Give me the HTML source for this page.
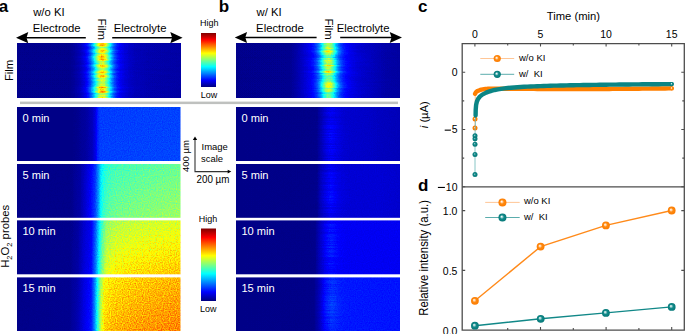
<!DOCTYPE html>
<html><head><meta charset="utf-8"><style>
html,body{margin:0;padding:0;background:#fff;}
body{width:685px;height:334px;overflow:hidden;font-family:"Liberation Sans",sans-serif;}
svg{display:block;}
</style></head><body>
<svg width="685" height="334" viewBox="0 0 685 334">
<defs><linearGradient id="g1" x1="0" y1="0" x2="1" y2="0"><stop offset="0.0000" stop-color="#030303"/><stop offset="0.3242" stop-color="#030303"/><stop offset="0.3853" stop-color="#080808"/><stop offset="0.4220" stop-color="#0f0f0f"/><stop offset="0.4587" stop-color="#1a1a1a"/><stop offset="0.5810" stop-color="#1a1a1a"/><stop offset="0.6177" stop-color="#141414"/><stop offset="0.6911" stop-color="#0f0f0f"/><stop offset="0.8135" stop-color="#0b0b0b"/><stop offset="1.0000" stop-color="#090909"/></linearGradient><linearGradient id="bd2" x1="0" y1="0" x2="1" y2="0"><stop offset="0.3162" stop-color="#fff" stop-opacity="0.005"/><stop offset="0.3505" stop-color="#fff" stop-opacity="0.017"/><stop offset="0.3847" stop-color="#fff" stop-opacity="0.042"/><stop offset="0.4121" stop-color="#fff" stop-opacity="0.081"/><stop offset="0.4327" stop-color="#fff" stop-opacity="0.136"/><stop offset="0.4498" stop-color="#fff" stop-opacity="0.225"/><stop offset="0.4635" stop-color="#fff" stop-opacity="0.347"/><stop offset="0.4755" stop-color="#fff" stop-opacity="0.496"/><stop offset="0.4875" stop-color="#fff" stop-opacity="0.672"/><stop offset="0.4977" stop-color="#fff" stop-opacity="0.820"/><stop offset="0.5080" stop-color="#fff" stop-opacity="0.936"/><stop offset="0.5166" stop-color="#fff" stop-opacity="0.991"/><stop offset="0.5217" stop-color="#fff" stop-opacity="1.000"/><stop offset="0.5269" stop-color="#fff" stop-opacity="0.991"/><stop offset="0.5354" stop-color="#fff" stop-opacity="0.936"/><stop offset="0.5457" stop-color="#fff" stop-opacity="0.820"/><stop offset="0.5560" stop-color="#fff" stop-opacity="0.672"/><stop offset="0.5680" stop-color="#fff" stop-opacity="0.496"/><stop offset="0.5799" stop-color="#fff" stop-opacity="0.347"/><stop offset="0.5936" stop-color="#fff" stop-opacity="0.225"/><stop offset="0.6108" stop-color="#fff" stop-opacity="0.136"/><stop offset="0.6313" stop-color="#fff" stop-opacity="0.081"/><stop offset="0.6587" stop-color="#fff" stop-opacity="0.042"/><stop offset="0.6930" stop-color="#fff" stop-opacity="0.017"/><stop offset="0.7272" stop-color="#fff" stop-opacity="0.005"/></linearGradient><linearGradient id="g3" x1="0" y1="0" x2="1" y2="0"><stop offset="0.0000" stop-color="#030303"/><stop offset="0.3293" stop-color="#040404"/><stop offset="0.4268" stop-color="#121212"/><stop offset="0.5122" stop-color="#1a1a1a"/><stop offset="0.6341" stop-color="#1a1a1a"/><stop offset="0.7866" stop-color="#121212"/><stop offset="0.9085" stop-color="#0a0a0a"/><stop offset="1.0000" stop-color="#080808"/></linearGradient><linearGradient id="bd4" x1="0" y1="0" x2="1" y2="0"><stop offset="0.3598" stop-color="#fff" stop-opacity="0.005"/><stop offset="0.3939" stop-color="#fff" stop-opacity="0.017"/><stop offset="0.4280" stop-color="#fff" stop-opacity="0.042"/><stop offset="0.4554" stop-color="#fff" stop-opacity="0.081"/><stop offset="0.4759" stop-color="#fff" stop-opacity="0.136"/><stop offset="0.4929" stop-color="#fff" stop-opacity="0.225"/><stop offset="0.5066" stop-color="#fff" stop-opacity="0.347"/><stop offset="0.5185" stop-color="#fff" stop-opacity="0.496"/><stop offset="0.5305" stop-color="#fff" stop-opacity="0.672"/><stop offset="0.5407" stop-color="#fff" stop-opacity="0.820"/><stop offset="0.5510" stop-color="#fff" stop-opacity="0.936"/><stop offset="0.5595" stop-color="#fff" stop-opacity="0.991"/><stop offset="0.5646" stop-color="#fff" stop-opacity="1.000"/><stop offset="0.5698" stop-color="#fff" stop-opacity="0.991"/><stop offset="0.5783" stop-color="#fff" stop-opacity="0.936"/><stop offset="0.5885" stop-color="#fff" stop-opacity="0.820"/><stop offset="0.5988" stop-color="#fff" stop-opacity="0.672"/><stop offset="0.6107" stop-color="#fff" stop-opacity="0.496"/><stop offset="0.6227" stop-color="#fff" stop-opacity="0.347"/><stop offset="0.6363" stop-color="#fff" stop-opacity="0.225"/><stop offset="0.6534" stop-color="#fff" stop-opacity="0.136"/><stop offset="0.6739" stop-color="#fff" stop-opacity="0.081"/><stop offset="0.7012" stop-color="#fff" stop-opacity="0.042"/><stop offset="0.7354" stop-color="#fff" stop-opacity="0.017"/><stop offset="0.7695" stop-color="#fff" stop-opacity="0.005"/></linearGradient><linearGradient id="vsh0" x1="0" y1="0" x2="0" y2="1"><stop offset="0" stop-color="#000" stop-opacity="0.030"/><stop offset="1" stop-color="#000" stop-opacity="0"/></linearGradient><linearGradient id="vsh1" x1="0" y1="0" x2="0" y2="1"><stop offset="0" stop-color="#000" stop-opacity="0.100"/><stop offset="1" stop-color="#000" stop-opacity="0"/></linearGradient><linearGradient id="vsh2" x1="0" y1="0" x2="0" y2="1"><stop offset="0" stop-color="#000" stop-opacity="0.140"/><stop offset="1" stop-color="#000" stop-opacity="0"/></linearGradient><linearGradient id="vsh3" x1="0" y1="0" x2="0" y2="1"><stop offset="0" stop-color="#000" stop-opacity="0.070"/><stop offset="1" stop-color="#000" stop-opacity="0"/></linearGradient><linearGradient id="bd5" x1="0" y1="0" x2="1" y2="0"><stop offset="0.3902" stop-color="#fff" stop-opacity="0.003"/><stop offset="0.4207" stop-color="#fff" stop-opacity="0.013"/><stop offset="0.4512" stop-color="#fff" stop-opacity="0.041"/><stop offset="0.4756" stop-color="#fff" stop-opacity="0.088"/><stop offset="0.4939" stop-color="#fff" stop-opacity="0.153"/><stop offset="0.5091" stop-color="#fff" stop-opacity="0.250"/><stop offset="0.5213" stop-color="#fff" stop-opacity="0.374"/><stop offset="0.5320" stop-color="#fff" stop-opacity="0.520"/><stop offset="0.5427" stop-color="#fff" stop-opacity="0.689"/><stop offset="0.5518" stop-color="#fff" stop-opacity="0.830"/><stop offset="0.5610" stop-color="#fff" stop-opacity="0.940"/><stop offset="0.5686" stop-color="#fff" stop-opacity="0.991"/><stop offset="0.5732" stop-color="#fff" stop-opacity="1.000"/><stop offset="0.5777" stop-color="#fff" stop-opacity="0.991"/><stop offset="0.5854" stop-color="#fff" stop-opacity="0.940"/><stop offset="0.5945" stop-color="#fff" stop-opacity="0.830"/><stop offset="0.6037" stop-color="#fff" stop-opacity="0.689"/><stop offset="0.6143" stop-color="#fff" stop-opacity="0.520"/><stop offset="0.6250" stop-color="#fff" stop-opacity="0.374"/><stop offset="0.6372" stop-color="#fff" stop-opacity="0.250"/><stop offset="0.6524" stop-color="#fff" stop-opacity="0.153"/><stop offset="0.6707" stop-color="#fff" stop-opacity="0.088"/><stop offset="0.6951" stop-color="#fff" stop-opacity="0.041"/><stop offset="0.7256" stop-color="#fff" stop-opacity="0.013"/><stop offset="0.7561" stop-color="#fff" stop-opacity="0.003"/></linearGradient><linearGradient id="g6" x1="0" y1="0" x2="1" y2="0"><stop offset="0.0000" stop-color="#020202"/><stop offset="0.3364" stop-color="#020202"/><stop offset="0.4159" stop-color="#080808"/><stop offset="0.4587" stop-color="#0f0f0f"/><stop offset="0.4801" stop-color="#1a1a1a"/><stop offset="0.4924" stop-color="#282828"/><stop offset="0.5076" stop-color="#303030"/><stop offset="1.0000" stop-color="#323232"/></linearGradient><linearGradient id="g7" x1="0" y1="0" x2="1" y2="0"><stop offset="0.0000" stop-color="#020202"/><stop offset="0.4939" stop-color="#030303"/><stop offset="0.5183" stop-color="#0b0b0b"/><stop offset="0.5488" stop-color="#131313"/><stop offset="0.5793" stop-color="#181818"/><stop offset="0.6098" stop-color="#171717"/><stop offset="0.6646" stop-color="#141414"/><stop offset="0.8171" stop-color="#121212"/><stop offset="1.0000" stop-color="#0f0f0f"/></linearGradient><linearGradient id="g8" x1="0" y1="0" x2="1" y2="0"><stop offset="0.0000" stop-color="#030303"/><stop offset="0.3242" stop-color="#030303"/><stop offset="0.3853" stop-color="#0a0a0a"/><stop offset="0.4220" stop-color="#171717"/><stop offset="0.4495" stop-color="#212121"/><stop offset="0.4771" stop-color="#303030"/><stop offset="0.4905" stop-color="#404040"/><stop offset="0.5015" stop-color="#4f4f4f"/><stop offset="0.5125" stop-color="#626262"/><stop offset="0.5321" stop-color="#707070"/><stop offset="0.5590" stop-color="#787878"/><stop offset="0.5994" stop-color="#7d7d7d"/><stop offset="0.7523" stop-color="#828282"/><stop offset="1.0000" stop-color="#888888"/></linearGradient><linearGradient id="g9" x1="0" y1="0" x2="1" y2="0"><stop offset="0.0000" stop-color="#020202"/><stop offset="0.4939" stop-color="#030303"/><stop offset="0.5183" stop-color="#0e0e0e"/><stop offset="0.5488" stop-color="#141414"/><stop offset="0.5793" stop-color="#1a1a1a"/><stop offset="0.6098" stop-color="#181818"/><stop offset="0.6646" stop-color="#161616"/><stop offset="0.8780" stop-color="#161616"/><stop offset="1.0000" stop-color="#141414"/></linearGradient><linearGradient id="g10" x1="0" y1="0" x2="1" y2="0"><stop offset="0.0000" stop-color="#030303"/><stop offset="0.3242" stop-color="#040404"/><stop offset="0.3731" stop-color="#0a0a0a"/><stop offset="0.4098" stop-color="#171717"/><stop offset="0.4538" stop-color="#212121"/><stop offset="0.4813" stop-color="#404040"/><stop offset="0.4979" stop-color="#5e5e5e"/><stop offset="0.5199" stop-color="#808080"/><stop offset="0.5468" stop-color="#999999"/><stop offset="0.6018" stop-color="#a3a3a3"/><stop offset="0.7217" stop-color="#a8a8a8"/><stop offset="1.0000" stop-color="#afafaf"/></linearGradient><linearGradient id="g11" x1="0" y1="0" x2="1" y2="0"><stop offset="0.0000" stop-color="#020202"/><stop offset="0.4817" stop-color="#030303"/><stop offset="0.5122" stop-color="#0f0f0f"/><stop offset="0.5488" stop-color="#1a1a1a"/><stop offset="0.5793" stop-color="#1f1f1f"/><stop offset="0.6098" stop-color="#1e1e1e"/><stop offset="0.6646" stop-color="#1d1d1d"/><stop offset="1.0000" stop-color="#1d1d1d"/></linearGradient><linearGradient id="g12" x1="0" y1="0" x2="1" y2="0"><stop offset="0.0000" stop-color="#030303"/><stop offset="0.3242" stop-color="#050505"/><stop offset="0.3731" stop-color="#0d0d0d"/><stop offset="0.4098" stop-color="#1a1a1a"/><stop offset="0.4538" stop-color="#262626"/><stop offset="0.4758" stop-color="#454545"/><stop offset="0.4924" stop-color="#696969"/><stop offset="0.5138" stop-color="#949494"/><stop offset="0.5358" stop-color="#ababab"/><stop offset="0.5853" stop-color="#b2b2b2"/><stop offset="0.7217" stop-color="#b8b8b8"/><stop offset="1.0000" stop-color="#bfbfbf"/></linearGradient><linearGradient id="g13" x1="0" y1="0" x2="1" y2="0"><stop offset="0.0000" stop-color="#020202"/><stop offset="0.4756" stop-color="#030303"/><stop offset="0.5061" stop-color="#0d0d0d"/><stop offset="0.5427" stop-color="#1f1f1f"/><stop offset="0.5854" stop-color="#282828"/><stop offset="0.6341" stop-color="#262626"/><stop offset="1.0000" stop-color="#252525"/></linearGradient><linearGradient id="cbg" x1="0" y1="0" x2="0" y2="1"><stop offset="0" stop-color="#fff"/><stop offset="1" stop-color="#000"/></linearGradient><filter id="jet" x="0" y="0" width="685" height="334" filterUnits="userSpaceOnUse" color-interpolation-filters="sRGB"><feComponentTransfer><feFuncR type="table" tableValues="0 0 0 0 0.5 1 1 1 0.5"/><feFuncG type="table" tableValues="0 0 0.5 1 1 1 0.5 0 0"/><feFuncB type="table" tableValues="0.5 1 1 1 0.5 0 0 0 0"/></feComponentTransfer></filter><filter id="jetf" x="0" y="0" width="685" height="334" filterUnits="userSpaceOnUse" color-interpolation-filters="sRGB"><feTurbulence type="fractalNoise" baseFrequency="0.04 0.55" numOctaves="2" seed="5" result="n1"/><feTurbulence type="fractalNoise" baseFrequency="0.7" numOctaves="1" seed="8" result="n2"/><feComposite in="n1" in2="n2" operator="arithmetic" k1="0" k2="0.5" k3="0.5" k4="0" result="n"/><feColorMatrix in="n" type="matrix" values="1 0 0 0 0  1 0 0 0 0  1 0 0 0 0  0 0 0 0 1" result="ng"/><feComponentTransfer in="SourceGraphic" result="sc"><feFuncR type="linear" slope="1.25"/><feFuncG type="linear" slope="1.25"/><feFuncB type="linear" slope="1.25"/></feComponentTransfer><feComposite in="sc" in2="ng" operator="arithmetic" k1="0.4" k2="0.6" k3="0" k4="0" result="s2"/><feComponentTransfer in="s2"><feFuncR type="table" tableValues="0 0 0 0 0.5 1 1 1 0.5"/><feFuncG type="table" tableValues="0 0 0.5 1 1 1 0.5 0 0"/><feFuncB type="table" tableValues="0.5 1 1 1 0.5 0 0 0 0"/></feComponentTransfer></filter><filter id="jetn" x="0" y="0" width="685" height="334" filterUnits="userSpaceOnUse" color-interpolation-filters="sRGB"><feTurbulence type="fractalNoise" baseFrequency="0.85" numOctaves="1" seed="3" result="n"/><feColorMatrix in="n" type="matrix" values="1 0 0 0 0  1 0 0 0 0  1 0 0 0 0  0 0 0 0 1" result="ng"/><feComponentTransfer in="SourceGraphic" result="sc"><feFuncR type="linear" slope="1.176"/><feFuncG type="linear" slope="1.176"/><feFuncB type="linear" slope="1.176"/></feComponentTransfer><feComposite in="sc" in2="ng" operator="arithmetic" k1="0.3" k2="0.7" k3="0" k4="0" result="s2"/><feComponentTransfer in="s2"><feFuncR type="table" tableValues="0 0 0 0 0.5 1 1 1 0.5"/><feFuncG type="table" tableValues="0 0 0.5 1 1 1 0.5 0 0"/><feFuncB type="table" tableValues="0.5 1 1 1 0.5 0 0 0 0"/></feComponentTransfer></filter>
<radialGradient id="mo" cx="0.5" cy="0.5" r="0.5" fx="0.38" fy="0.38">
 <stop offset="0" stop-color="#fffaf5"/><stop offset="0.22" stop-color="#ffd6ad"/><stop offset="0.5" stop-color="#ff8a10"/><stop offset="1" stop-color="#fb7b00"/></radialGradient>
<radialGradient id="mt" cx="0.5" cy="0.5" r="0.5" fx="0.38" fy="0.38">
 <stop offset="0" stop-color="#f5fbfb"/><stop offset="0.22" stop-color="#a8d6d6"/><stop offset="0.5" stop-color="#138a8a"/><stop offset="1" stop-color="#047878"/></radialGradient>
<radialGradient id="mos" cx="0.5" cy="0.5" r="0.5" fx="0.4" fy="0.4">
 <stop offset="0" stop-color="#ffd9b3"/><stop offset="0.25" stop-color="#ffa040"/><stop offset="0.5" stop-color="#ff8200"/><stop offset="1" stop-color="#f87800"/></radialGradient>
<radialGradient id="mts" cx="0.5" cy="0.5" r="0.5" fx="0.4" fy="0.4">
 <stop offset="0" stop-color="#b0dcdc"/><stop offset="0.25" stop-color="#40a0a0"/><stop offset="0.5" stop-color="#0e8686"/><stop offset="1" stop-color="#057777"/></radialGradient>
<marker id="ah" viewBox="0 0 12 10" refX="11" refY="5" markerWidth="12" markerHeight="10" markerUnits="userSpaceOnUse" orient="auto"><path d="M0,0 L12,5 L0,10 L1.5,5 Z" fill="#000"/></marker>
</defs>
<g filter="url(#jetf)" shape-rendering="crispEdges"><g><rect x="17.00" y="43.00" width="163.50" height="55.00" fill="url(#g1)"/><rect x="17.00" y="43" width="163.50" height="1" fill="url(#bd2)" fill-opacity="0.642"/><rect x="17.00" y="44" width="163.50" height="1" fill="url(#bd2)" fill-opacity="0.703"/><rect x="17.00" y="45" width="163.50" height="1" fill="url(#bd2)" fill-opacity="0.686"/><rect x="17.00" y="46" width="163.50" height="1" fill="url(#bd2)" fill-opacity="0.565"/><rect x="17.00" y="47" width="163.50" height="1" fill="url(#bd2)" fill-opacity="0.518"/><rect x="17.00" y="48" width="163.50" height="1" fill="url(#bd2)" fill-opacity="0.526"/><rect x="17.00" y="49" width="163.50" height="1" fill="url(#bd2)" fill-opacity="0.551"/><rect x="17.00" y="50" width="163.50" height="1" fill="url(#bd2)" fill-opacity="0.665"/><rect x="17.00" y="51" width="163.50" height="1" fill="url(#bd2)" fill-opacity="0.691"/><rect x="17.00" y="52" width="163.50" height="1" fill="url(#bd2)" fill-opacity="0.614"/><rect x="17.00" y="53" width="163.50" height="1" fill="url(#bd2)" fill-opacity="0.507"/><rect x="17.00" y="54" width="163.50" height="1" fill="url(#bd2)" fill-opacity="0.589"/><rect x="17.00" y="55" width="163.50" height="1" fill="url(#bd2)" fill-opacity="0.645"/><rect x="17.00" y="56" width="163.50" height="1" fill="url(#bd2)" fill-opacity="0.679"/><rect x="17.00" y="57" width="163.50" height="1" fill="url(#bd2)" fill-opacity="0.674"/><rect x="17.00" y="58" width="163.50" height="1" fill="url(#bd2)" fill-opacity="0.663"/><rect x="17.00" y="59" width="163.50" height="1" fill="url(#bd2)" fill-opacity="0.691"/><rect x="17.00" y="60" width="163.50" height="1" fill="url(#bd2)" fill-opacity="0.605"/><rect x="17.00" y="61" width="163.50" height="1" fill="url(#bd2)" fill-opacity="0.530"/><rect x="17.00" y="62" width="163.50" height="1" fill="url(#bd2)" fill-opacity="0.525"/><rect x="17.00" y="63" width="163.50" height="1" fill="url(#bd2)" fill-opacity="0.526"/><rect x="17.00" y="64" width="163.50" height="1" fill="url(#bd2)" fill-opacity="0.572"/><rect x="17.00" y="65" width="163.50" height="1" fill="url(#bd2)" fill-opacity="0.686"/><rect x="17.00" y="66" width="163.50" height="1" fill="url(#bd2)" fill-opacity="0.643"/><rect x="17.00" y="67" width="163.50" height="1" fill="url(#bd2)" fill-opacity="0.562"/><rect x="17.00" y="68" width="163.50" height="1" fill="url(#bd2)" fill-opacity="0.501"/><rect x="17.00" y="69" width="163.50" height="1" fill="url(#bd2)" fill-opacity="0.481"/><rect x="17.00" y="70" width="163.50" height="1" fill="url(#bd2)" fill-opacity="0.568"/><rect x="17.00" y="71" width="163.50" height="1" fill="url(#bd2)" fill-opacity="0.646"/><rect x="17.00" y="72" width="163.50" height="1" fill="url(#bd2)" fill-opacity="0.692"/><rect x="17.00" y="73" width="163.50" height="1" fill="url(#bd2)" fill-opacity="0.581"/><rect x="17.00" y="74" width="163.50" height="1" fill="url(#bd2)" fill-opacity="0.577"/><rect x="17.00" y="75" width="163.50" height="1" fill="url(#bd2)" fill-opacity="0.654"/><rect x="17.00" y="76" width="163.50" height="1" fill="url(#bd2)" fill-opacity="0.690"/><rect x="17.00" y="77" width="163.50" height="1" fill="url(#bd2)" fill-opacity="0.607"/><rect x="17.00" y="78" width="163.50" height="1" fill="url(#bd2)" fill-opacity="0.535"/><rect x="17.00" y="79" width="163.50" height="1" fill="url(#bd2)" fill-opacity="0.555"/><rect x="17.00" y="80" width="163.50" height="1" fill="url(#bd2)" fill-opacity="0.547"/><rect x="17.00" y="81" width="163.50" height="1" fill="url(#bd2)" fill-opacity="0.543"/><rect x="17.00" y="82" width="163.50" height="1" fill="url(#bd2)" fill-opacity="0.524"/><rect x="17.00" y="83" width="163.50" height="1" fill="url(#bd2)" fill-opacity="0.500"/><rect x="17.00" y="84" width="163.50" height="1" fill="url(#bd2)" fill-opacity="0.528"/><rect x="17.00" y="85" width="163.50" height="1" fill="url(#bd2)" fill-opacity="0.571"/><rect x="17.00" y="86" width="163.50" height="1" fill="url(#bd2)" fill-opacity="0.617"/><rect x="17.00" y="87" width="163.50" height="1" fill="url(#bd2)" fill-opacity="0.721"/><rect x="17.00" y="88" width="163.50" height="1" fill="url(#bd2)" fill-opacity="0.646"/><rect x="17.00" y="89" width="163.50" height="1" fill="url(#bd2)" fill-opacity="0.637"/><rect x="17.00" y="90" width="163.50" height="1" fill="url(#bd2)" fill-opacity="0.638"/><rect x="17.00" y="91" width="163.50" height="1" fill="url(#bd2)" fill-opacity="0.735"/><rect x="17.00" y="92" width="163.50" height="1" fill="url(#bd2)" fill-opacity="0.680"/><rect x="17.00" y="93" width="163.50" height="1" fill="url(#bd2)" fill-opacity="0.528"/><rect x="17.00" y="94" width="163.50" height="1" fill="url(#bd2)" fill-opacity="0.494"/><rect x="17.00" y="95" width="163.50" height="1" fill="url(#bd2)" fill-opacity="0.549"/><rect x="17.00" y="96" width="163.50" height="1" fill="url(#bd2)" fill-opacity="0.546"/><rect x="17.00" y="97" width="163.50" height="1" fill="url(#bd2)" fill-opacity="0.610"/></g><g><rect x="236.00" y="43.00" width="164.00" height="55.00" fill="url(#g3)"/><rect x="236.00" y="43" width="164.00" height="1" fill="url(#bd4)" fill-opacity="0.478"/><rect x="236.00" y="44" width="164.00" height="1" fill="url(#bd4)" fill-opacity="0.493"/><rect x="236.00" y="45" width="164.00" height="1" fill="url(#bd4)" fill-opacity="0.498"/><rect x="236.00" y="46" width="164.00" height="1" fill="url(#bd4)" fill-opacity="0.484"/><rect x="236.00" y="47" width="164.00" height="1" fill="url(#bd4)" fill-opacity="0.529"/><rect x="236.00" y="48" width="164.00" height="1" fill="url(#bd4)" fill-opacity="0.558"/><rect x="236.00" y="49" width="164.00" height="1" fill="url(#bd4)" fill-opacity="0.499"/><rect x="236.00" y="50" width="164.00" height="1" fill="url(#bd4)" fill-opacity="0.542"/><rect x="236.00" y="51" width="164.00" height="1" fill="url(#bd4)" fill-opacity="0.584"/><rect x="236.00" y="52" width="164.00" height="1" fill="url(#bd4)" fill-opacity="0.576"/><rect x="236.00" y="53" width="164.00" height="1" fill="url(#bd4)" fill-opacity="0.516"/><rect x="236.00" y="54" width="164.00" height="1" fill="url(#bd4)" fill-opacity="0.489"/><rect x="236.00" y="55" width="164.00" height="1" fill="url(#bd4)" fill-opacity="0.420"/><rect x="236.00" y="56" width="164.00" height="1" fill="url(#bd4)" fill-opacity="0.411"/><rect x="236.00" y="57" width="164.00" height="1" fill="url(#bd4)" fill-opacity="0.389"/><rect x="236.00" y="58" width="164.00" height="1" fill="url(#bd4)" fill-opacity="0.485"/><rect x="236.00" y="59" width="164.00" height="1" fill="url(#bd4)" fill-opacity="0.469"/><rect x="236.00" y="60" width="164.00" height="1" fill="url(#bd4)" fill-opacity="0.593"/><rect x="236.00" y="61" width="164.00" height="1" fill="url(#bd4)" fill-opacity="0.534"/><rect x="236.00" y="62" width="164.00" height="1" fill="url(#bd4)" fill-opacity="0.528"/><rect x="236.00" y="63" width="164.00" height="1" fill="url(#bd4)" fill-opacity="0.478"/><rect x="236.00" y="64" width="164.00" height="1" fill="url(#bd4)" fill-opacity="0.516"/><rect x="236.00" y="65" width="164.00" height="1" fill="url(#bd4)" fill-opacity="0.603"/><rect x="236.00" y="66" width="164.00" height="1" fill="url(#bd4)" fill-opacity="0.520"/><rect x="236.00" y="67" width="164.00" height="1" fill="url(#bd4)" fill-opacity="0.468"/><rect x="236.00" y="68" width="164.00" height="1" fill="url(#bd4)" fill-opacity="0.516"/><rect x="236.00" y="69" width="164.00" height="1" fill="url(#bd4)" fill-opacity="0.486"/><rect x="236.00" y="70" width="164.00" height="1" fill="url(#bd4)" fill-opacity="0.485"/><rect x="236.00" y="71" width="164.00" height="1" fill="url(#bd4)" fill-opacity="0.611"/><rect x="236.00" y="72" width="164.00" height="1" fill="url(#bd4)" fill-opacity="0.599"/><rect x="236.00" y="73" width="164.00" height="1" fill="url(#bd4)" fill-opacity="0.477"/><rect x="236.00" y="74" width="164.00" height="1" fill="url(#bd4)" fill-opacity="0.476"/><rect x="236.00" y="75" width="164.00" height="1" fill="url(#bd4)" fill-opacity="0.443"/><rect x="236.00" y="76" width="164.00" height="1" fill="url(#bd4)" fill-opacity="0.433"/><rect x="236.00" y="77" width="164.00" height="1" fill="url(#bd4)" fill-opacity="0.426"/><rect x="236.00" y="78" width="164.00" height="1" fill="url(#bd4)" fill-opacity="0.389"/><rect x="236.00" y="79" width="164.00" height="1" fill="url(#bd4)" fill-opacity="0.464"/><rect x="236.00" y="80" width="164.00" height="1" fill="url(#bd4)" fill-opacity="0.436"/><rect x="236.00" y="81" width="164.00" height="1" fill="url(#bd4)" fill-opacity="0.457"/><rect x="236.00" y="82" width="164.00" height="1" fill="url(#bd4)" fill-opacity="0.538"/><rect x="236.00" y="83" width="164.00" height="1" fill="url(#bd4)" fill-opacity="0.561"/><rect x="236.00" y="84" width="164.00" height="1" fill="url(#bd4)" fill-opacity="0.569"/><rect x="236.00" y="85" width="164.00" height="1" fill="url(#bd4)" fill-opacity="0.563"/><rect x="236.00" y="86" width="164.00" height="1" fill="url(#bd4)" fill-opacity="0.578"/><rect x="236.00" y="87" width="164.00" height="1" fill="url(#bd4)" fill-opacity="0.549"/><rect x="236.00" y="88" width="164.00" height="1" fill="url(#bd4)" fill-opacity="0.466"/><rect x="236.00" y="89" width="164.00" height="1" fill="url(#bd4)" fill-opacity="0.500"/><rect x="236.00" y="90" width="164.00" height="1" fill="url(#bd4)" fill-opacity="0.510"/><rect x="236.00" y="91" width="164.00" height="1" fill="url(#bd4)" fill-opacity="0.486"/><rect x="236.00" y="92" width="164.00" height="1" fill="url(#bd4)" fill-opacity="0.428"/><rect x="236.00" y="93" width="164.00" height="1" fill="url(#bd4)" fill-opacity="0.396"/><rect x="236.00" y="94" width="164.00" height="1" fill="url(#bd4)" fill-opacity="0.405"/><rect x="236.00" y="95" width="164.00" height="1" fill="url(#bd4)" fill-opacity="0.423"/><rect x="236.00" y="96" width="164.00" height="1" fill="url(#bd4)" fill-opacity="0.429"/><rect x="236.00" y="97" width="164.00" height="1" fill="url(#bd4)" fill-opacity="0.417"/></g></g><g filter="url(#jetn)"><rect x="17.00" y="107.00" width="163.50" height="54.00" fill="url(#g6)"/><rect x="236.00" y="107.00" width="164.00" height="54.00" fill="url(#g7)"/><rect x="236" y="107" width="164" height="1" fill="url(#bd5)" fill-opacity="0.006"/><rect x="236" y="108" width="164" height="1" fill="url(#bd5)" fill-opacity="0.026"/><rect x="236" y="109" width="164" height="1" fill="url(#bd5)" fill-opacity="0.024"/><rect x="236" y="110" width="164" height="1" fill="url(#bd5)" fill-opacity="0.018"/><rect x="236" y="111" width="164" height="1" fill="url(#bd5)" fill-opacity="0.009"/><rect x="236" y="112" width="164" height="1" fill="url(#bd5)" fill-opacity="0.030"/><rect x="236" y="113" width="164" height="1" fill="url(#bd5)" fill-opacity="0.031"/><rect x="236" y="114" width="164" height="1" fill="url(#bd5)" fill-opacity="0.021"/><rect x="236" y="115" width="164" height="1" fill="url(#bd5)" fill-opacity="0.021"/><rect x="236" y="116" width="164" height="1" fill="url(#bd5)" fill-opacity="0.012"/><rect x="236" y="117" width="164" height="1" fill="url(#bd5)" fill-opacity="0.005"/><rect x="236" y="118" width="164" height="1" fill="url(#bd5)" fill-opacity="0.019"/><rect x="236" y="119" width="164" height="1" fill="url(#bd5)" fill-opacity="0.028"/><rect x="236" y="120" width="164" height="1" fill="url(#bd5)" fill-opacity="0.010"/><rect x="236" y="121" width="164" height="1" fill="url(#bd5)" fill-opacity="0.037"/><rect x="236" y="122" width="164" height="1" fill="url(#bd5)" fill-opacity="0.018"/><rect x="236" y="123" width="164" height="1" fill="url(#bd5)" fill-opacity="0.019"/><rect x="236" y="124" width="164" height="1" fill="url(#bd5)" fill-opacity="0.014"/><rect x="236" y="125" width="164" height="1" fill="url(#bd5)" fill-opacity="0.049"/><rect x="236" y="126" width="164" height="1" fill="url(#bd5)" fill-opacity="0.041"/><rect x="236" y="127" width="164" height="1" fill="url(#bd5)" fill-opacity="0.047"/><rect x="236" y="128" width="164" height="1" fill="url(#bd5)" fill-opacity="0.039"/><rect x="236" y="129" width="164" height="1" fill="url(#bd5)" fill-opacity="0.019"/><rect x="236" y="130" width="164" height="1" fill="url(#bd5)" fill-opacity="0.030"/><rect x="236" y="131" width="164" height="1" fill="url(#bd5)" fill-opacity="0.037"/><rect x="236" y="132" width="164" height="1" fill="url(#bd5)" fill-opacity="0.024"/><rect x="236" y="133" width="164" height="1" fill="url(#bd5)" fill-opacity="0.054"/><rect x="236" y="134" width="164" height="1" fill="url(#bd5)" fill-opacity="0.033"/><rect x="236" y="135" width="164" height="1" fill="url(#bd5)" fill-opacity="0.025"/><rect x="236" y="136" width="164" height="1" fill="url(#bd5)" fill-opacity="0.049"/><rect x="236" y="137" width="164" height="1" fill="url(#bd5)" fill-opacity="0.024"/><rect x="236" y="138" width="164" height="1" fill="url(#bd5)" fill-opacity="0.052"/><rect x="236" y="139" width="164" height="1" fill="url(#bd5)" fill-opacity="0.034"/><rect x="236" y="140" width="164" height="1" fill="url(#bd5)" fill-opacity="0.037"/><rect x="236" y="141" width="164" height="1" fill="url(#bd5)" fill-opacity="0.028"/><rect x="236" y="142" width="164" height="1" fill="url(#bd5)" fill-opacity="0.032"/><rect x="236" y="143" width="164" height="1" fill="url(#bd5)" fill-opacity="0.020"/><rect x="236" y="144" width="164" height="1" fill="url(#bd5)" fill-opacity="0.013"/><rect x="236" y="145" width="164" height="1" fill="url(#bd5)" fill-opacity="0.042"/><rect x="236" y="146" width="164" height="1" fill="url(#bd5)" fill-opacity="0.018"/><rect x="236" y="147" width="164" height="1" fill="url(#bd5)" fill-opacity="0.037"/><rect x="236" y="148" width="164" height="1" fill="url(#bd5)" fill-opacity="0.015"/><rect x="236" y="149" width="164" height="1" fill="url(#bd5)" fill-opacity="0.041"/><rect x="236" y="150" width="164" height="1" fill="url(#bd5)" fill-opacity="0.038"/><rect x="236" y="151" width="164" height="1" fill="url(#bd5)" fill-opacity="0.032"/><rect x="236" y="152" width="164" height="1" fill="url(#bd5)" fill-opacity="0.031"/><rect x="236" y="153" width="164" height="1" fill="url(#bd5)" fill-opacity="0.024"/><rect x="236" y="154" width="164" height="1" fill="url(#bd5)" fill-opacity="0.029"/><rect x="236" y="155" width="164" height="1" fill="url(#bd5)" fill-opacity="0.007"/><rect x="236" y="156" width="164" height="1" fill="url(#bd5)" fill-opacity="0.019"/><rect x="236" y="157" width="164" height="1" fill="url(#bd5)" fill-opacity="0.031"/><rect x="236" y="158" width="164" height="1" fill="url(#bd5)" fill-opacity="0.008"/><rect x="236" y="159" width="164" height="1" fill="url(#bd5)" fill-opacity="0.034"/><rect x="236" y="160" width="164" height="1" fill="url(#bd5)" fill-opacity="0.033"/><rect x="17.00" y="107.00" width="163.50" height="54.00" fill="url(#vsh0)"/><rect x="17.00" y="164.00" width="163.50" height="53.80" fill="url(#g8)"/><rect x="236.00" y="164.00" width="164.00" height="53.80" fill="url(#g9)"/><rect x="236" y="164" width="164" height="1" fill="url(#bd5)" fill-opacity="0.015"/><rect x="236" y="165" width="164" height="1" fill="url(#bd5)" fill-opacity="0.014"/><rect x="236" y="166" width="164" height="1" fill="url(#bd5)" fill-opacity="0.017"/><rect x="236" y="167" width="164" height="1" fill="url(#bd5)" fill-opacity="0.015"/><rect x="236" y="168" width="164" height="1" fill="url(#bd5)" fill-opacity="0.037"/><rect x="236" y="169" width="164" height="1" fill="url(#bd5)" fill-opacity="0.016"/><rect x="236" y="170" width="164" height="1" fill="url(#bd5)" fill-opacity="0.003"/><rect x="236" y="171" width="164" height="1" fill="url(#bd5)" fill-opacity="0.006"/><rect x="236" y="172" width="164" height="1" fill="url(#bd5)" fill-opacity="0.029"/><rect x="236" y="173" width="164" height="1" fill="url(#bd5)" fill-opacity="0.040"/><rect x="236" y="174" width="164" height="1" fill="url(#bd5)" fill-opacity="0.023"/><rect x="236" y="175" width="164" height="1" fill="url(#bd5)" fill-opacity="0.023"/><rect x="236" y="176" width="164" height="1" fill="url(#bd5)" fill-opacity="0.026"/><rect x="236" y="177" width="164" height="1" fill="url(#bd5)" fill-opacity="0.035"/><rect x="236" y="178" width="164" height="1" fill="url(#bd5)" fill-opacity="0.017"/><rect x="236" y="179" width="164" height="1" fill="url(#bd5)" fill-opacity="0.032"/><rect x="236" y="180" width="164" height="1" fill="url(#bd5)" fill-opacity="0.031"/><rect x="236" y="181" width="164" height="1" fill="url(#bd5)" fill-opacity="0.035"/><rect x="236" y="182" width="164" height="1" fill="url(#bd5)" fill-opacity="0.020"/><rect x="236" y="183" width="164" height="1" fill="url(#bd5)" fill-opacity="0.021"/><rect x="236" y="184" width="164" height="1" fill="url(#bd5)" fill-opacity="0.028"/><rect x="236" y="185" width="164" height="1" fill="url(#bd5)" fill-opacity="0.050"/><rect x="236" y="186" width="164" height="1" fill="url(#bd5)" fill-opacity="0.030"/><rect x="236" y="187" width="164" height="1" fill="url(#bd5)" fill-opacity="0.040"/><rect x="236" y="188" width="164" height="1" fill="url(#bd5)" fill-opacity="0.030"/><rect x="236" y="189" width="164" height="1" fill="url(#bd5)" fill-opacity="0.023"/><rect x="236" y="190" width="164" height="1" fill="url(#bd5)" fill-opacity="0.022"/><rect x="236" y="191" width="164" height="1" fill="url(#bd5)" fill-opacity="0.049"/><rect x="236" y="192" width="164" height="1" fill="url(#bd5)" fill-opacity="0.048"/><rect x="236" y="193" width="164" height="1" fill="url(#bd5)" fill-opacity="0.033"/><rect x="236" y="194" width="164" height="1" fill="url(#bd5)" fill-opacity="0.044"/><rect x="236" y="195" width="164" height="1" fill="url(#bd5)" fill-opacity="0.043"/><rect x="236" y="196" width="164" height="1" fill="url(#bd5)" fill-opacity="0.050"/><rect x="236" y="197" width="164" height="1" fill="url(#bd5)" fill-opacity="0.051"/><rect x="236" y="198" width="164" height="1" fill="url(#bd5)" fill-opacity="0.030"/><rect x="236" y="199" width="164" height="1" fill="url(#bd5)" fill-opacity="0.050"/><rect x="236" y="200" width="164" height="1" fill="url(#bd5)" fill-opacity="0.048"/><rect x="236" y="201" width="164" height="1" fill="url(#bd5)" fill-opacity="0.033"/><rect x="236" y="202" width="164" height="1" fill="url(#bd5)" fill-opacity="0.043"/><rect x="236" y="203" width="164" height="1" fill="url(#bd5)" fill-opacity="0.027"/><rect x="236" y="204" width="164" height="1" fill="url(#bd5)" fill-opacity="0.022"/><rect x="236" y="205" width="164" height="1" fill="url(#bd5)" fill-opacity="0.016"/><rect x="236" y="206" width="164" height="1" fill="url(#bd5)" fill-opacity="0.038"/><rect x="236" y="207" width="164" height="1" fill="url(#bd5)" fill-opacity="0.011"/><rect x="236" y="208" width="164" height="1" fill="url(#bd5)" fill-opacity="0.007"/><rect x="236" y="209" width="164" height="1" fill="url(#bd5)" fill-opacity="0.033"/><rect x="236" y="210" width="164" height="1" fill="url(#bd5)" fill-opacity="0.031"/><rect x="236" y="211" width="164" height="1" fill="url(#bd5)" fill-opacity="0.020"/><rect x="236" y="212" width="164" height="1" fill="url(#bd5)" fill-opacity="0.032"/><rect x="236" y="213" width="164" height="1" fill="url(#bd5)" fill-opacity="0.004"/><rect x="236" y="214" width="164" height="1" fill="url(#bd5)" fill-opacity="0.011"/><rect x="236" y="215" width="164" height="1" fill="url(#bd5)" fill-opacity="0.012"/><rect x="236" y="216" width="164" height="1" fill="url(#bd5)" fill-opacity="0.016"/><rect x="17.00" y="164.00" width="163.50" height="53.80" fill="url(#vsh1)"/><rect x="17.00" y="220.40" width="163.50" height="53.90" fill="url(#g10)"/><rect x="236.00" y="220.40" width="164.00" height="53.90" fill="url(#g11)"/><rect x="236" y="221" width="164" height="1" fill="url(#bd5)" fill-opacity="0.007"/><rect x="236" y="222" width="164" height="1" fill="url(#bd5)" fill-opacity="0.003"/><rect x="236" y="223" width="164" height="1" fill="url(#bd5)" fill-opacity="0.013"/><rect x="236" y="224" width="164" height="1" fill="url(#bd5)" fill-opacity="0.034"/><rect x="236" y="225" width="164" height="1" fill="url(#bd5)" fill-opacity="0.037"/><rect x="236" y="226" width="164" height="1" fill="url(#bd5)" fill-opacity="0.029"/><rect x="236" y="227" width="164" height="1" fill="url(#bd5)" fill-opacity="0.020"/><rect x="236" y="228" width="164" height="1" fill="url(#bd5)" fill-opacity="0.012"/><rect x="236" y="229" width="164" height="1" fill="url(#bd5)" fill-opacity="0.038"/><rect x="236" y="230" width="164" height="1" fill="url(#bd5)" fill-opacity="0.023"/><rect x="236" y="231" width="164" height="1" fill="url(#bd5)" fill-opacity="0.031"/><rect x="236" y="232" width="164" height="1" fill="url(#bd5)" fill-opacity="0.007"/><rect x="236" y="233" width="164" height="1" fill="url(#bd5)" fill-opacity="0.015"/><rect x="236" y="234" width="164" height="1" fill="url(#bd5)" fill-opacity="0.038"/><rect x="236" y="235" width="164" height="1" fill="url(#bd5)" fill-opacity="0.038"/><rect x="236" y="236" width="164" height="1" fill="url(#bd5)" fill-opacity="0.042"/><rect x="236" y="237" width="164" height="1" fill="url(#bd5)" fill-opacity="0.033"/><rect x="236" y="238" width="164" height="1" fill="url(#bd5)" fill-opacity="0.028"/><rect x="236" y="239" width="164" height="1" fill="url(#bd5)" fill-opacity="0.035"/><rect x="236" y="240" width="164" height="1" fill="url(#bd5)" fill-opacity="0.046"/><rect x="236" y="241" width="164" height="1" fill="url(#bd5)" fill-opacity="0.027"/><rect x="236" y="242" width="164" height="1" fill="url(#bd5)" fill-opacity="0.037"/><rect x="236" y="243" width="164" height="1" fill="url(#bd5)" fill-opacity="0.028"/><rect x="236" y="244" width="164" height="1" fill="url(#bd5)" fill-opacity="0.047"/><rect x="236" y="245" width="164" height="1" fill="url(#bd5)" fill-opacity="0.020"/><rect x="236" y="246" width="164" height="1" fill="url(#bd5)" fill-opacity="0.044"/><rect x="236" y="247" width="164" height="1" fill="url(#bd5)" fill-opacity="0.054"/><rect x="236" y="248" width="164" height="1" fill="url(#bd5)" fill-opacity="0.021"/><rect x="236" y="249" width="164" height="1" fill="url(#bd5)" fill-opacity="0.041"/><rect x="236" y="250" width="164" height="1" fill="url(#bd5)" fill-opacity="0.042"/><rect x="236" y="251" width="164" height="1" fill="url(#bd5)" fill-opacity="0.049"/><rect x="236" y="252" width="164" height="1" fill="url(#bd5)" fill-opacity="0.039"/><rect x="236" y="253" width="164" height="1" fill="url(#bd5)" fill-opacity="0.026"/><rect x="236" y="254" width="164" height="1" fill="url(#bd5)" fill-opacity="0.031"/><rect x="236" y="255" width="164" height="1" fill="url(#bd5)" fill-opacity="0.049"/><rect x="236" y="256" width="164" height="1" fill="url(#bd5)" fill-opacity="0.046"/><rect x="236" y="257" width="164" height="1" fill="url(#bd5)" fill-opacity="0.017"/><rect x="236" y="258" width="164" height="1" fill="url(#bd5)" fill-opacity="0.015"/><rect x="236" y="259" width="164" height="1" fill="url(#bd5)" fill-opacity="0.014"/><rect x="236" y="260" width="164" height="1" fill="url(#bd5)" fill-opacity="0.010"/><rect x="236" y="261" width="164" height="1" fill="url(#bd5)" fill-opacity="0.024"/><rect x="236" y="262" width="164" height="1" fill="url(#bd5)" fill-opacity="0.012"/><rect x="236" y="263" width="164" height="1" fill="url(#bd5)" fill-opacity="0.037"/><rect x="236" y="264" width="164" height="1" fill="url(#bd5)" fill-opacity="0.029"/><rect x="236" y="265" width="164" height="1" fill="url(#bd5)" fill-opacity="0.009"/><rect x="236" y="266" width="164" height="1" fill="url(#bd5)" fill-opacity="0.023"/><rect x="236" y="267" width="164" height="1" fill="url(#bd5)" fill-opacity="0.015"/><rect x="236" y="268" width="164" height="1" fill="url(#bd5)" fill-opacity="0.020"/><rect x="236" y="269" width="164" height="1" fill="url(#bd5)" fill-opacity="0.010"/><rect x="236" y="270" width="164" height="1" fill="url(#bd5)" fill-opacity="0.008"/><rect x="236" y="271" width="164" height="1" fill="url(#bd5)" fill-opacity="0.008"/><rect x="236" y="272" width="164" height="1" fill="url(#bd5)" fill-opacity="0.015"/><rect x="236" y="273" width="164" height="1" fill="url(#bd5)" fill-opacity="0.026"/><rect x="17.00" y="220.40" width="163.50" height="53.90" fill="url(#vsh2)"/><rect x="17.00" y="277.40" width="163.50" height="53.60" fill="url(#g12)"/><rect x="236.00" y="277.40" width="164.00" height="53.60" fill="url(#g13)"/><rect x="236" y="278" width="164" height="1" fill="url(#bd5)" fill-opacity="0.020"/><rect x="236" y="279" width="164" height="1" fill="url(#bd5)" fill-opacity="0.002"/><rect x="236" y="280" width="164" height="1" fill="url(#bd5)" fill-opacity="0.027"/><rect x="236" y="281" width="164" height="1" fill="url(#bd5)" fill-opacity="0.033"/><rect x="236" y="282" width="164" height="1" fill="url(#bd5)" fill-opacity="0.030"/><rect x="236" y="283" width="164" height="1" fill="url(#bd5)" fill-opacity="0.031"/><rect x="236" y="284" width="164" height="1" fill="url(#bd5)" fill-opacity="0.003"/><rect x="236" y="285" width="164" height="1" fill="url(#bd5)" fill-opacity="0.020"/><rect x="236" y="286" width="164" height="1" fill="url(#bd5)" fill-opacity="0.006"/><rect x="236" y="287" width="164" height="1" fill="url(#bd5)" fill-opacity="0.032"/><rect x="236" y="288" width="164" height="1" fill="url(#bd5)" fill-opacity="0.012"/><rect x="236" y="289" width="164" height="1" fill="url(#bd5)" fill-opacity="0.032"/><rect x="236" y="290" width="164" height="1" fill="url(#bd5)" fill-opacity="0.016"/><rect x="236" y="291" width="164" height="1" fill="url(#bd5)" fill-opacity="0.033"/><rect x="236" y="292" width="164" height="1" fill="url(#bd5)" fill-opacity="0.021"/><rect x="236" y="293" width="164" height="1" fill="url(#bd5)" fill-opacity="0.012"/><rect x="236" y="294" width="164" height="1" fill="url(#bd5)" fill-opacity="0.026"/><rect x="236" y="295" width="164" height="1" fill="url(#bd5)" fill-opacity="0.024"/><rect x="236" y="296" width="164" height="1" fill="url(#bd5)" fill-opacity="0.047"/><rect x="236" y="297" width="164" height="1" fill="url(#bd5)" fill-opacity="0.026"/><rect x="236" y="298" width="164" height="1" fill="url(#bd5)" fill-opacity="0.035"/><rect x="236" y="299" width="164" height="1" fill="url(#bd5)" fill-opacity="0.037"/><rect x="236" y="300" width="164" height="1" fill="url(#bd5)" fill-opacity="0.052"/><rect x="236" y="301" width="164" height="1" fill="url(#bd5)" fill-opacity="0.023"/><rect x="236" y="302" width="164" height="1" fill="url(#bd5)" fill-opacity="0.041"/><rect x="236" y="303" width="164" height="1" fill="url(#bd5)" fill-opacity="0.038"/><rect x="236" y="304" width="164" height="1" fill="url(#bd5)" fill-opacity="0.046"/><rect x="236" y="305" width="164" height="1" fill="url(#bd5)" fill-opacity="0.055"/><rect x="236" y="306" width="164" height="1" fill="url(#bd5)" fill-opacity="0.031"/><rect x="236" y="307" width="164" height="1" fill="url(#bd5)" fill-opacity="0.044"/><rect x="236" y="308" width="164" height="1" fill="url(#bd5)" fill-opacity="0.038"/><rect x="236" y="309" width="164" height="1" fill="url(#bd5)" fill-opacity="0.038"/><rect x="236" y="310" width="164" height="1" fill="url(#bd5)" fill-opacity="0.019"/><rect x="236" y="311" width="164" height="1" fill="url(#bd5)" fill-opacity="0.045"/><rect x="236" y="312" width="164" height="1" fill="url(#bd5)" fill-opacity="0.050"/><rect x="236" y="313" width="164" height="1" fill="url(#bd5)" fill-opacity="0.026"/><rect x="236" y="314" width="164" height="1" fill="url(#bd5)" fill-opacity="0.024"/><rect x="236" y="315" width="164" height="1" fill="url(#bd5)" fill-opacity="0.047"/><rect x="236" y="316" width="164" height="1" fill="url(#bd5)" fill-opacity="0.014"/><rect x="236" y="317" width="164" height="1" fill="url(#bd5)" fill-opacity="0.012"/><rect x="236" y="318" width="164" height="1" fill="url(#bd5)" fill-opacity="0.010"/><rect x="236" y="319" width="164" height="1" fill="url(#bd5)" fill-opacity="0.036"/><rect x="236" y="320" width="164" height="1" fill="url(#bd5)" fill-opacity="0.033"/><rect x="236" y="321" width="164" height="1" fill="url(#bd5)" fill-opacity="0.021"/><rect x="236" y="322" width="164" height="1" fill="url(#bd5)" fill-opacity="0.026"/><rect x="236" y="323" width="164" height="1" fill="url(#bd5)" fill-opacity="0.004"/><rect x="236" y="324" width="164" height="1" fill="url(#bd5)" fill-opacity="0.026"/><rect x="236" y="325" width="164" height="1" fill="url(#bd5)" fill-opacity="0.018"/><rect x="236" y="326" width="164" height="1" fill="url(#bd5)" fill-opacity="0.020"/><rect x="236" y="327" width="164" height="1" fill="url(#bd5)" fill-opacity="0.016"/><rect x="236" y="328" width="164" height="1" fill="url(#bd5)" fill-opacity="0.016"/><rect x="236" y="329" width="164" height="1" fill="url(#bd5)" fill-opacity="0.009"/><rect x="236" y="330" width="164" height="1" fill="url(#bd5)" fill-opacity="0.002"/><rect x="17.00" y="277.40" width="163.50" height="53.60" fill="url(#vsh3)"/></g><g filter="url(#jet)"><rect x="201" y="33" width="15" height="54" fill="url(#cbg)"/><rect x="201" y="228.5" width="15" height="72.5" fill="url(#cbg)"/></g>
<g font-family="Liberation Sans, sans-serif">
<text transform="translate(-1.20,11.60)" font-size="17" fill="#000" font-weight="bold">a</text>
<text transform="translate(218.80,11.60)" font-size="17" fill="#000" font-weight="bold">b</text>
<text transform="translate(417.90,11.70)" font-size="17" fill="#000" font-weight="bold">c</text>
<text transform="translate(417.90,190.60)" font-size="17" fill="#000" font-weight="bold">d</text>
<text transform="translate(33.20,15.90) scale(1,1.045)" font-size="11.3" fill="#000">w/o KI</text>
<text transform="translate(32.80,31.60) scale(1,1.045)" font-size="11.3" fill="#000">Electrode</text>
<text transform="translate(113.70,31.60) scale(1,1.045)" font-size="11.3" fill="#000">Electrolyte</text>
<text transform="translate(256.60,15.80) scale(1,1.045)" font-size="11.3" fill="#000">w/ KI</text>
<text transform="translate(256.10,31.50) scale(1,1.045)" font-size="11.3" fill="#000">Electrode</text>
<text transform="translate(336.80,31.50) scale(1,1.045)" font-size="11.3" fill="#000">Electrolyte</text>
<text transform="translate(97.90,18.60) rotate(90) scale(1,1.045)" font-size="11.3" fill="#000">Film</text>
<text transform="translate(325.00,18.40) rotate(90) scale(1,1.045)" font-size="11.3" fill="#000">Film</text>
<text transform="translate(12.90,81.10) rotate(-90) scale(1,1.045)" font-size="11.3" fill="#000">Film</text>
<text transform="translate(8.90,267.80) rotate(-90) scale(1,1.045)" font-size="11.3" fill="#000">H<tspan font-size="7.5" dy="2.6">2</tspan><tspan dy="-2.6">O</tspan><tspan font-size="7.5" dy="2.6">2</tspan><tspan dy="-2.6"> probes</tspan></text>
<text transform="translate(22.40,122.30) scale(1,1.045)" font-size="11.1" fill="#fff">0 min</text>
<text transform="translate(241.40,122.30) scale(1,1.045)" font-size="11.1" fill="#fff">0 min</text>
<text transform="translate(22.40,179.30) scale(1,1.045)" font-size="11.1" fill="#fff">5 min</text>
<text transform="translate(241.40,179.30) scale(1,1.045)" font-size="11.1" fill="#fff">5 min</text>
<text transform="translate(22.40,235.30) scale(1,1.045)" font-size="11.1" fill="#fff">10 min</text>
<text transform="translate(241.40,235.30) scale(1,1.045)" font-size="11.1" fill="#fff">10 min</text>
<text transform="translate(22.40,292.30) scale(1,1.045)" font-size="11.1" fill="#fff">15 min</text>
<text transform="translate(241.40,292.30) scale(1,1.045)" font-size="11.1" fill="#fff">15 min</text>
</g>
<line x1="24.00" y1="37.70" x2="85.80" y2="37.70" stroke="#000" stroke-width="1.6"/><path d="M16.00,37.70 L28.30,32.10 L26.50,37.70 L28.30,43.30 Z" fill="#000"/>
<line x1="112.20" y1="37.70" x2="174.60" y2="37.70" stroke="#000" stroke-width="1.6"/><path d="M182.60,37.70 L170.30,32.10 L172.10,37.70 L170.30,43.30 Z" fill="#000"/>
<line x1="242.80" y1="37.50" x2="316.60" y2="37.50" stroke="#000" stroke-width="1.6"/><path d="M234.80,37.50 L247.10,31.90 L245.30,37.50 L247.10,43.10 Z" fill="#000"/>
<line x1="340.20" y1="37.50" x2="394.00" y2="37.50" stroke="#000" stroke-width="1.6"/><path d="M402.00,37.50 L389.70,31.90 L391.50,37.50 L389.70,43.10 Z" fill="#000"/>
<rect x="20" y="101.6" width="378" height="2.5" fill="#bfc1bf"/>
<g font-family="Liberation Sans, sans-serif">
<text transform="translate(209.20,25.70) scale(1,1.045)" font-size="9" fill="#000" text-anchor="middle">High</text>
<text transform="translate(209.00,98.30) scale(1,1.045)" font-size="9" fill="#000" text-anchor="middle">Low</text>
<text transform="translate(207.90,221.70) scale(1,1.045)" font-size="9" fill="#000" text-anchor="middle">High</text>
<text transform="translate(208.20,312.40) scale(1,1.045)" font-size="9" fill="#000" text-anchor="middle">Low</text>
</g>
<path d="M195.0,139.5 L195.0,171.6 L228.2,171.6" stroke="#333" stroke-width="1.1" fill="none"/>
<path d="M195.0,136.4 L197.2,139.9 L192.8,139.9 Z" fill="#000"/>
<path d="M231.3,171.6 L227.7,169.8 L227.7,173.4 Z" fill="#000"/>
<g font-family="Liberation Sans, sans-serif">
<text transform="translate(201.50,149.90) scale(1,1.045)" font-size="9.5" fill="#000">Image</text>
<text transform="translate(201.00,161.60) scale(1,1.045)" font-size="9.5" fill="#000">scale</text>
<text transform="translate(196.50,182.50) scale(1,1.045)" font-size="9.8" fill="#000">200 µm</text>
<text transform="translate(189.30,172.00) rotate(-90) scale(1,1.045)" font-size="9.5" fill="#000">400 µm</text>
</g>
<g stroke="#4d4d4d" stroke-width="1.3" fill="none">
<path d="M462.2,43.6 L684.3,43.6 L684.3,330.1 L462.2,330.1 Z"/>
<path d="M462.2,186.8 L684.3,186.8"/>
</g>
<path d="M474.90,43.6 L474.90,46.6 M540.50,43.6 L540.50,46.6 M606.10,43.6 L606.10,46.6 M671.70,43.6 L671.70,46.6 M507.70,43.6 L507.70,45.6 M573.30,43.6 L573.30,45.6 M638.90,43.6 L638.90,45.6 M462.2,72.20 L465.2,72.20 M684.3,72.20 L681.3,72.20 M462.2,129.50 L465.2,129.50 M684.3,129.50 L681.3,129.50 M462.2,186.80 L465.2,186.80 M684.3,186.80 L681.3,186.80 M462.2,100.85 L464.2,100.85 M684.3,100.85 L682.3,100.85 M462.2,158.15 L464.2,158.15 M684.3,158.15 L682.3,158.15 M462.2,270.40 L465.2,270.40 M684.3,270.40 L681.3,270.40 M462.2,210.60 L465.2,210.60 M684.3,210.60 L681.3,210.60 M540.50,330.1 L540.50,327.1 M606.10,330.1 L606.10,327.1 M671.70,330.1 L671.70,327.1 M507.70,330.1 L507.70,328.1 M573.30,330.1 L573.30,328.1 M638.90,330.1 L638.90,328.1" stroke="#4d4d4d" stroke-width="1.1" fill="none"/>
<g font-family="Liberation Sans, sans-serif">
<text transform="translate(474.90,38.40) scale(1,1.045)" font-size="10.5" fill="#000" text-anchor="middle">0</text>
<text transform="translate(540.50,38.40) scale(1,1.045)" font-size="10.5" fill="#000" text-anchor="middle">5</text>
<text transform="translate(606.10,38.40) scale(1,1.045)" font-size="10.5" fill="#000" text-anchor="middle">10</text>
<text transform="translate(671.70,38.40) scale(1,1.045)" font-size="10.5" fill="#000" text-anchor="middle">15</text>
<text transform="translate(457.50,76.00) scale(1,1.045)" font-size="10.5" fill="#000" text-anchor="end">0</text>
<text transform="translate(457.50,133.30) scale(1,1.045)" font-size="10.5" fill="#000" text-anchor="end">5</text>
<text transform="translate(457.50,190.60) scale(1,1.045)" font-size="10.5" fill="#000" text-anchor="end">10</text>
<text transform="translate(457.40,334.50) scale(1,1.045)" font-size="10.5" fill="#000" text-anchor="end">0.0</text>
<text transform="translate(457.40,274.70) scale(1,1.045)" font-size="10.5" fill="#000" text-anchor="end">0.5</text>
<text transform="translate(457.40,214.90) scale(1,1.045)" font-size="10.5" fill="#000" text-anchor="end">1.0</text>
<text transform="translate(546.80,20.00) scale(1,1.045)" font-size="11.25" fill="#000">Time (min)</text>
<text transform="translate(427.70,128.20) rotate(-90) scale(1,1.045)" font-size="11.2" fill="#000"><tspan font-style="italic">i</tspan> (µA)</text>
<text transform="translate(428.40,315.80) rotate(-90) scale(1,1.045)" font-size="11.4" fill="#000">Relative intensity (a.u.)</text>
</g>
<rect x="444.7" y="129.6" width="6.2" height="1.1" fill="#000"/>
<rect x="437.9" y="186.9" width="7.0" height="1.1" fill="#000"/>
<line x1="480.30" y1="58.50" x2="514.20" y2="58.50" stroke="#ffc08a" stroke-width="0.9"/><circle cx="497.25" cy="58.50" r="3.60" fill="url(#mo)"/><g font-family="Liberation Sans, sans-serif"><text transform="translate(519.00,61.00) scale(1,1.045)" font-size="9.5" fill="#000">w/o KI</text></g>
<line x1="480.30" y1="74.30" x2="514.20" y2="74.30" stroke="#48a4a4" stroke-width="0.9"/><circle cx="497.25" cy="74.30" r="3.60" fill="url(#mt)"/><g font-family="Liberation Sans, sans-serif"><text transform="translate(519.00,76.50) scale(1,1.045)" font-size="9.5" fill="#000">w/&#160;&#160;KI</text></g>
<line x1="485.20" y1="202.40" x2="519.70" y2="202.40" stroke="#ffc08a" stroke-width="0.9"/><circle cx="502.45" cy="202.40" r="4.00" fill="url(#mo)"/><g font-family="Liberation Sans, sans-serif"><text transform="translate(523.90,204.40) scale(1,1.045)" font-size="9.5" fill="#000">w/o KI</text></g>
<line x1="485.20" y1="217.50" x2="519.70" y2="217.50" stroke="#48a4a4" stroke-width="0.9"/><circle cx="502.45" cy="217.50" r="4.00" fill="url(#mt)"/><g font-family="Liberation Sans, sans-serif"><text transform="translate(523.90,219.50) scale(1,1.045)" font-size="9.5" fill="#000">w/&#160;&#160;KI</text></g>
<polyline points="475,128.1 475,119 475.3,100 475.10,93.80" fill="none" stroke="#ffb070" stroke-width="0.8"/>
<polyline points="475.10,93.80 475.90,92.30 477.00,91.20 477.52,91.11 478.84,90.44 480.15,89.95 481.46,89.58 482.77,89.31 484.08,89.11 485.40,88.96 486.71,88.86 488.02,88.78 491.30,88.67 494.58,88.64 497.86,88.64 501.14,88.65 504.42,88.68 507.70,88.71 510.98,88.73 514.26,88.76 517.54,88.79 520.82,88.82 524.10,88.84 527.38,88.87 530.66,88.89 533.94,88.91 537.22,88.94 540.50,88.95 543.78,88.97 547.06,88.99 550.34,89.00 553.62,89.01 556.90,89.02 560.18,89.03 563.46,89.04 566.74,89.04 570.02,89.05 573.30,89.05 576.58,89.05 579.86,89.04 583.14,89.04 586.42,89.03 589.70,89.02 592.98,89.01 596.26,89.00 599.54,88.99 602.82,88.97 606.10,88.95 609.38,88.94 612.66,88.91 615.94,88.89 619.22,88.87 622.50,88.84 625.78,88.82 629.06,88.79 632.34,88.76 635.62,88.73 638.90,88.70 642.18,88.67 645.46,88.64 648.74,88.61 652.02,88.57 655.30,88.54 658.58,88.50 661.86,88.47 665.14,88.43 668.42,88.39 671.70,88.36" fill="none" stroke="#ff7f00" stroke-width="4.4" stroke-linecap="round" stroke-linejoin="round"/>
<circle cx="475.00" cy="128.10" r="2.50" fill="url(#mos)"/>
<circle cx="475.00" cy="119.00" r="2.50" fill="url(#mos)"/>
<circle cx="671.70" cy="88.36" r="2.10" fill="url(#mo)"/>
<polyline points="475.00,174.60 475.00,154.40 475.00,144.20 475.00,138.70 475.00,135.70 475.60,115.50" fill="none" stroke="#6ab8b8" stroke-width="0.8"/>
<polyline points="475.60,115.50 475.70,110.00 476.10,105.00 476.90,101.50 478.10,98.80 479.80,96.60 482.30,94.60 486.20,92.60 488.02,91.91 491.30,90.80 494.58,89.98 497.86,89.34 501.14,88.82 504.42,88.40 507.70,88.04 510.98,87.73 514.26,87.46 517.54,87.22 520.82,87.00 524.10,86.81 527.38,86.64 530.66,86.48 533.94,86.34 537.22,86.21 540.50,86.08 543.78,85.97 547.06,85.86 550.34,85.76 553.62,85.67 556.90,85.59 560.18,85.50 563.46,85.43 566.74,85.35 570.02,85.28 573.30,85.22 576.58,85.16 579.86,85.10 583.14,85.04 586.42,84.98 589.70,84.93 592.98,84.88 596.26,84.83 599.54,84.79 602.82,84.74 606.10,84.70 609.38,84.66 612.66,84.62 615.94,84.58 619.22,84.55 622.50,84.51 625.78,84.48 629.06,84.44 632.34,84.41 635.62,84.38 638.90,84.35 642.18,84.32 645.46,84.29 648.74,84.26 652.02,84.24 655.30,84.21 658.58,84.19 661.86,84.16 665.14,84.14 668.42,84.11 671.70,84.09" fill="none" stroke="#0a8585" stroke-width="4.4" stroke-linecap="round" stroke-linejoin="round"/>
<circle cx="475.00" cy="174.60" r="2.50" fill="url(#mts)"/>
<circle cx="475.00" cy="154.40" r="2.50" fill="url(#mts)"/>
<circle cx="475.00" cy="144.20" r="2.50" fill="url(#mts)"/>
<circle cx="475.00" cy="138.70" r="2.50" fill="url(#mts)"/>
<circle cx="475.00" cy="135.70" r="2.50" fill="url(#mts)"/>
<circle cx="671.70" cy="84.09" r="2.10" fill="url(#mt)"/>
<polyline points="474.90,300.80 540.60,246.60 605.90,225.40 671.70,210.50" fill="none" stroke="#ff8a1a" stroke-width="1.4"/>
<polyline points="474.90,325.70 540.70,318.80 605.90,312.90 671.70,306.90" fill="none" stroke="#118888" stroke-width="1.4"/>
<circle cx="474.90" cy="300.80" r="3.90" fill="url(#mo)"/>
<circle cx="540.60" cy="246.60" r="3.90" fill="url(#mo)"/>
<circle cx="605.90" cy="225.40" r="3.90" fill="url(#mo)"/>
<circle cx="671.70" cy="210.50" r="3.90" fill="url(#mo)"/>
<circle cx="474.90" cy="325.70" r="3.90" fill="url(#mt)"/>
<circle cx="540.70" cy="318.80" r="3.90" fill="url(#mt)"/>
<circle cx="605.90" cy="312.90" r="3.90" fill="url(#mt)"/>
<circle cx="671.70" cy="306.90" r="3.90" fill="url(#mt)"/>
</svg>
</body></html>
